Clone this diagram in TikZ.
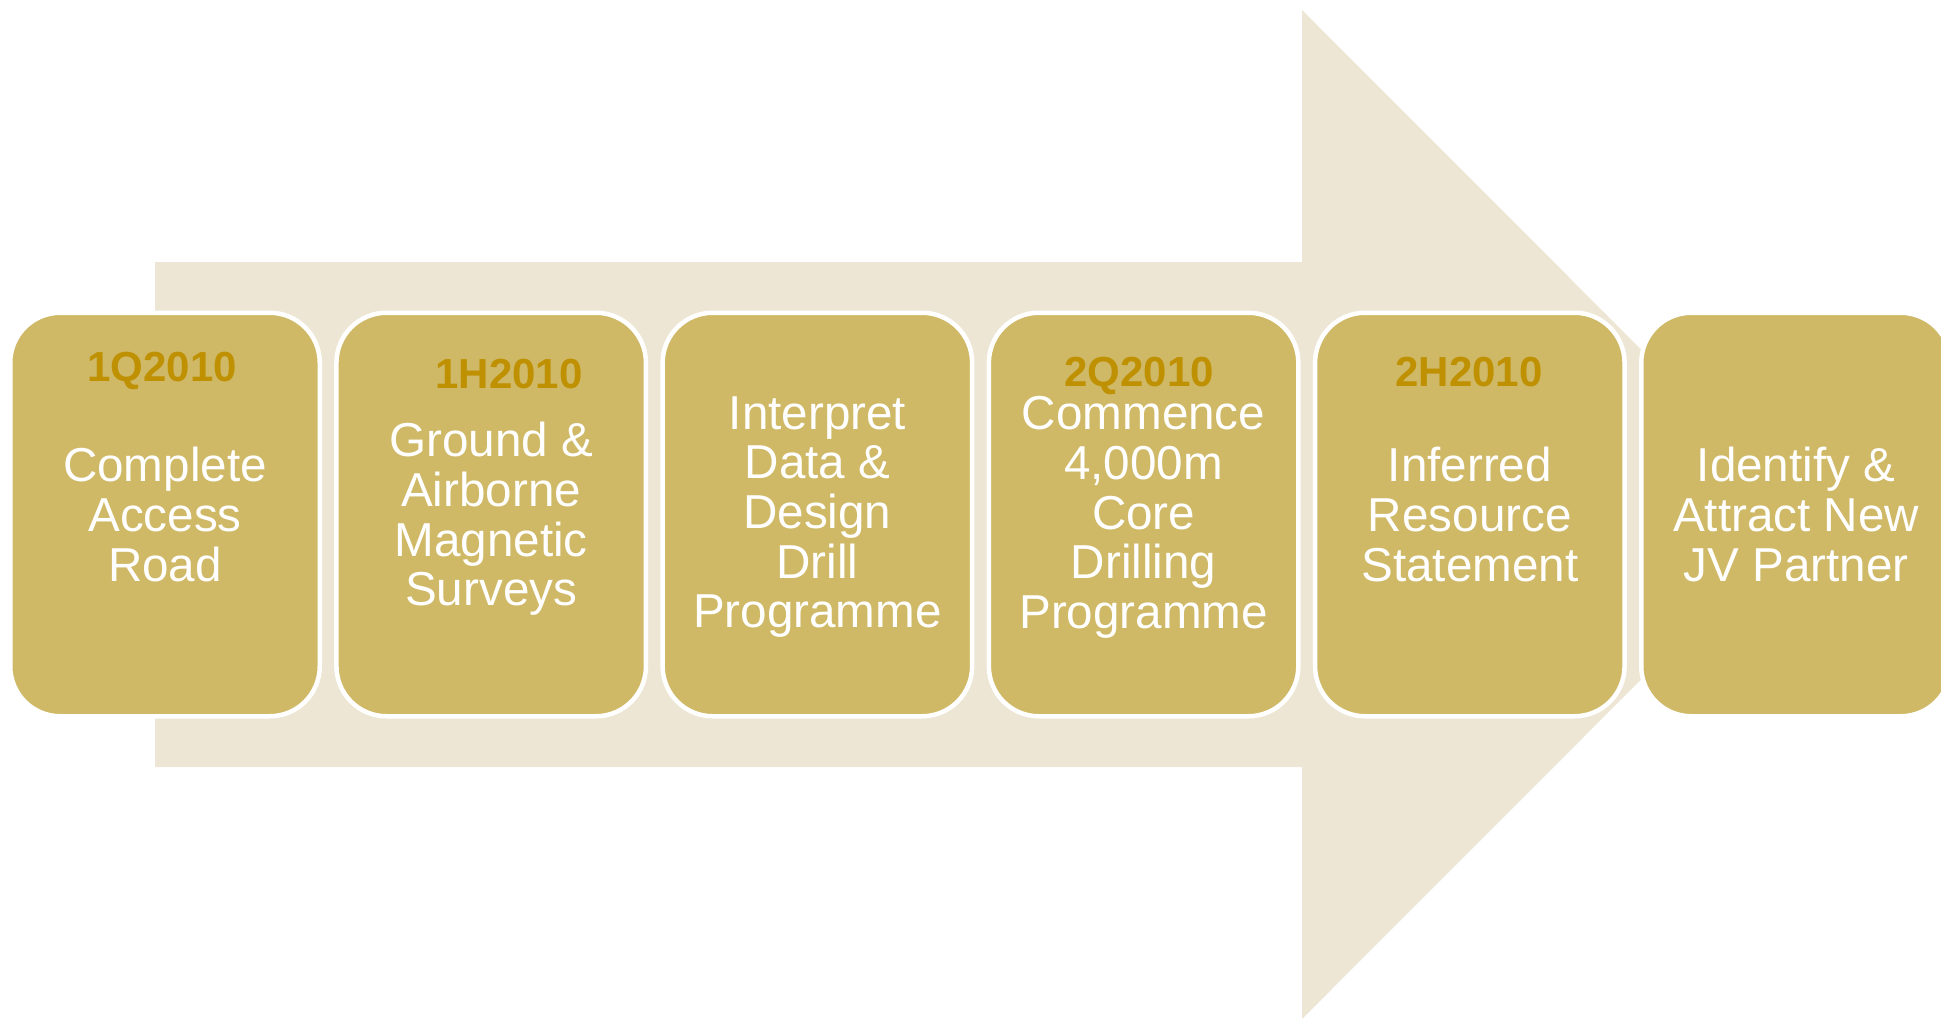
\documentclass[tikz,border=0pt]{standalone}
\usepackage{fontspec}
\setmainfont{Liberation Sans}
\usetikzlibrary{positioning}
\definecolor{arrowbg}{HTML}{EDE6D4}
\definecolor{boxfill}{HTML}{CFB967}
\definecolor{datecol}{HTML}{BF9000}

\begin{document}
\begin{tikzpicture}[x=1pt,y=-1pt,node distance=326.2pt,
    stage/.style={rectangle,rounded corners=50pt,fill=boxfill,draw=white,line width=4.5pt,
                  minimum width=309.5pt,minimum height=403.5pt,inner sep=0pt,outer sep=0pt},
    stagetext/.style={anchor=north,align=center,text=white,inner sep=0pt,
                      font=\fontsize{47.6}{49.7}\selectfont,execute at begin node=\strut},
    datelbl/.style={anchor=base,text=datecol,inner sep=0pt,font=\fontsize{42}{46}\selectfont\bfseries}]

        \path[use as bounding box,clip] (0,0) rectangle (1941,1020);

        % big arrow behind the stages
        \fill[arrowbg] (155,262) -- (1302,262) -- (1302,10) -- (1806,514.5)
            -- (1302,1019) -- (1302,767) -- (155,767) -- cycle;

        \node[stage] (s1) at (165,514.5) {};
        \node[stage] (s2) [right of=s1] {};
        \node[stage] (s3) [right of=s2] {};
        \node[stage] (s4) [right of=s3] {};
        \node[stage] (s5) [right of=s4] {};
        \node[stage] (s6) [right of=s5] {};

        \node[datelbl] (d1) at (162,381) {1Q2010};
        \node[datelbl] (d2) at (509,388) {1H2010};
        \node[datelbl] (d4) at (1139,386) {2Q2010};
        \node[datelbl] (d5) at (1469,386) {2H2010};

        \node[stagetext] (t1) at (165,447.2) {Complete\\Access\\Road};
        \node[stagetext] (t2) at (491.2,422.2) {Ground \&\\Airborne\\Magnetic\\Surveys};
        \node[stagetext] (t3) at (817.4,396.2) {Interpret\\Data \&\\Design\\Drill\\Programme};
        \node[stagetext] (t4) at (1143.6,396.2) {Commence\\4,000m\\Core\\Drilling\\Programme};
        \node[stagetext] (t5) at (1469.8,447.2) {Inferred\\Resource\\Statement};
        \node[stagetext] (t6) at (1796,447.2) {Identify \&\\Attract New\\JV Partner};
\end{tikzpicture}
\end{document}
